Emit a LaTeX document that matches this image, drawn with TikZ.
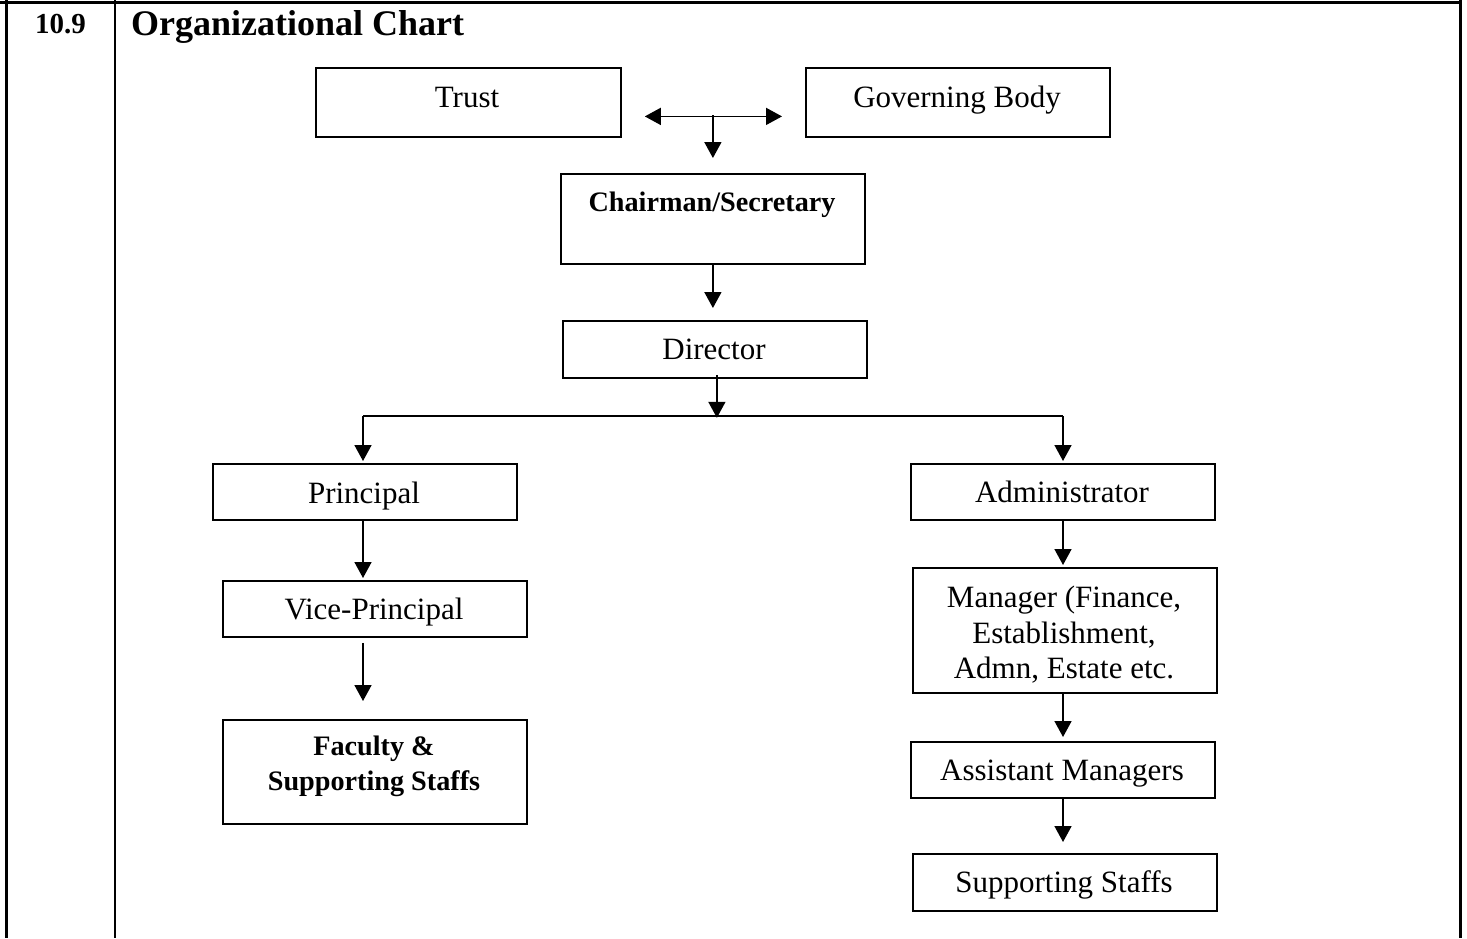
\documentclass[tikz,border=0pt]{standalone}
\usepackage{fontspec}
\setmainfont{Liberation Serif}
\usetikzlibrary{arrows.meta,calc}
\begin{document}
\begin{tikzpicture}[x=1pt,y=-1pt,
  box/.style={draw,line width=1.8pt,inner sep=0pt,anchor=north west,minimum width=304pt},
  txt/.style={inner sep=0pt,anchor=base,font=\fontsize{31}{36}\selectfont},
  btxt/.style={inner sep=0pt,anchor=base,font=\fontsize{28.2}{34}\selectfont\bfseries},
  rule/.style={line width=2.6pt},
  tip/.tip={Triangle[length=16pt,width=17pt]},
  arr/.style={line width=1.6pt,-tip},
  darr/.style={line width=1.6pt,tip-tip},
  conn/.style={line width=1.6pt}]
\useasboundingbox (0,0) rectangle (1467,938);
% table rules
\draw[rule] (0,2.5) -- (1461.5,2.5);
\draw[rule] (6.5,0) -- (6.5,938);
\draw[rule] (115,0) -- (115,938);
\draw[line width=3pt] (1460,0) -- (1460,938);
\node[inner sep=0pt,anchor=base west,font=\fontsize{29}{34}\selectfont\bfseries] (num) at (35,33) {10.9};
\node[inner sep=0pt,anchor=base west,font=\fontsize{36}{42}\selectfont\bfseries] (title) at (131,35) {Organizational Chart};
% boxes
\node[box,minimum width=305pt,minimum height=69pt] (trust) at (315,67) {};
\node[box,minimum height=69pt] (gov) at (805,67) {};
\node[box,minimum height=90pt] (chair) at (560,173) {};
\node[box,minimum height=57pt] (dir) at (562,320) {};
\node[box,minimum height=56pt] (prin) at (212,463) {};
\node[box,minimum height=56pt] (vice) at (222,580) {};
\node[box,minimum height=104pt] (fac) at (222,719) {};
\node[box,minimum height=56pt] (admin) at (910,463) {};
\node[box,minimum height=125pt] (mgr) at (912,567) {};
\node[box,minimum height=56pt] (asst) at (910,741) {};
\node[box,minimum height=57pt] (sup) at (912,853) {};
% texts
\node[txt] (trustT) at (467,107) {Trust};
\node[txt] (govT) at (957,107) {Governing Body};
\node[btxt] (chairT) at (712,211) {Chairman/Secretary};
\node[txt] (dirT) at (714,359) {Director};
\node[txt] (prinT) at (364,503) {Principal};
\node[txt] (viceT) at (374,619) {Vice-Principal};
\node[btxt] (facT1) at (374,755) {Faculty \&};
\node[btxt] (facT2) at (374,790) {Supporting Staffs};
\node[txt] (adminT) at (1062,502) {Administrator};
\node[txt] (mgrT1) at (1064,607) {Manager (Finance,};
\node[txt] (mgrT2) at (1064,643) {Establishment,};
\node[txt] (mgrT3) at (1064,678) {Admn, Estate etc.};
\node[txt] (asstT) at (1062,780) {Assistant Managers};
\node[txt] (supT) at (1064,892) {Supporting Staffs};
% connector points
\coordinate (dl) at ($(trust.east)+(23,14)$);
\coordinate (dr) at ($(gov.west)+(-23,14)$);
\coordinate (dm) at ($(chair.north)+(0,-58)$);
\coordinate (bus) at ($(dir.south)+(2,39)$);
\coordinate (busL) at (363,416);
\coordinate (busR) at (1063,416);
% connectors
\draw[darr] (dl) -- (dr);
\draw[arr] (dm) -- ($(dm|-chair.north)+(0,-15)$);
\draw[arr] (chair.south) -- ($(chair.south|-dir.north)+(0,-12)$);
\draw[arr] ($(dir.south)+(2,-4)$) -- (bus);
\draw[conn] (busL) -- (busR);
\draw[arr] (busL) -- ($(busL|-prin.north)+(0,-2)$);
\draw[arr] (busR) -- ($(busR|-admin.north)+(0,-2)$);
\draw[arr] (busL|-prin.south) -- ($(busL|-vice.north)+(0,-2)$);
\draw[arr] ($(busL|-vice.south)+(0,5)$) -- ($(busL|-fac.north)+(0,-18)$);
\draw[arr] (busR|-admin.south) -- ($(busR|-mgr.north)+(0,-2)$);
\draw[arr] (busR|-mgr.south) -- ($(busR|-asst.north)+(0,-4)$);
\draw[arr] (busR|-asst.south) -- ($(busR|-sup.north)+(0,-11)$);
\end{tikzpicture}
\end{document}
